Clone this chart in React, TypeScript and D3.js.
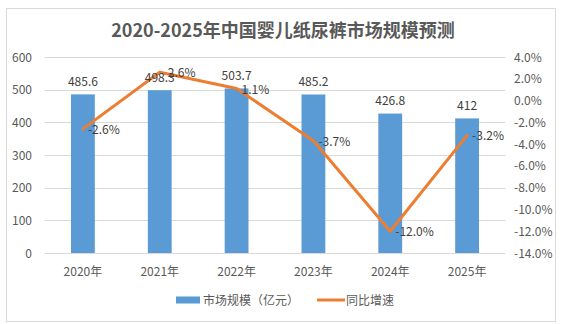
import React from "react";
import * as d3 from "d3";

const years = ["2020年", "2021年", "2022年", "2023年", "2024年", "2025年"];
const marketSize = [485.6, 498.3, 503.7, 485.2, 426.8, 412];
const growth = [-2.6, 2.6, 1.1, -3.7, -12.0, -3.2];
const leftTicks = [0, 100, 200, 300, 400, 500, 600];
const rightTicks = [4, 2, 0, -2, -4, -6, -8, -10, -12, -14];

const W = 562;
const H = 324;
const FONT = "'Microsoft YaHei', 'Noto Sans CJK SC', 'Noto Sans', sans-serif";
const TXT = "#595959";

export default function App() {
  const x = d3
    .scaleBand<string>()
    .domain(years)
    .range([44.5, 505.5])
    .paddingInner(0.69)
    .paddingOuter(0.345);
  const yL = d3.scaleLinear().domain([0, 600]).range([253, 57]);
  const yR = d3.scaleLinear().domain([-14, 4]).range([253, 57]);
  const cx = (d: string) => (x(d) as number) + x.bandwidth() / 2;

  const line = d3
    .line<number>()
    .x((_, i) => cx(years[i]))
    .y((d) => yR(d));

  return (
    <svg
      width={W}
      height={H}
      style={{ position: "absolute", left: 0, top: 0, background: "#fff" }}
      fontFamily={FONT}
    >
      <rect x={6.5} y={8.5} width={549} height={313} fill="#fff" stroke="#d9d9d9" strokeWidth={1} />
      <text x={283} y={37} textAnchor="middle" fontSize={18} fontWeight="bold" fill={TXT}>
        2020-2025年中国婴儿纸尿裤市场规模预测
      </text>

      {leftTicks.map((t) => (
        <g key={"l" + t}>
          <line x1={44.5} x2={505.5} y1={Math.round(yL(t)) + 0.5} y2={Math.round(yL(t)) + 0.5} stroke="#d9d9d9" strokeWidth={1} />
          <text x={32} y={yL(t) + 4.5} textAnchor="end" fontSize={12} fill={TXT}>
            {t}
          </text>
        </g>
      ))}
      {rightTicks.map((t) => (
        <text key={"r" + t} x={514} y={yR(t) + 4.5} textAnchor="start" fontSize={12} fill={TXT}>
          {t.toFixed(1) + "%"}
        </text>
      ))}

      {years.map((yr, i) => (
        <g key={yr}>
          <rect
            x={x(yr)}
            y={yL(marketSize[i])}
            width={x.bandwidth()}
            height={yL(0) - yL(marketSize[i])}
            fill="#5B9BD5"
          />
          <text x={cx(yr)} y={276} textAnchor="middle" fontSize={12} fill={TXT}>
            {yr}
          </text>
        </g>
      ))}

      <path d={line(growth) || ""} fill="none" stroke="#ED7D31" strokeWidth={3} strokeLinejoin="round" strokeLinecap="round" />

      {years.map((yr, i) => (
        <text key={"bl" + yr} x={cx(yr)} y={yL(marketSize[i]) - 8.5} textAnchor="middle" fontSize={12} fill="#404040">
          {String(marketSize[i])}
        </text>
      ))}
      {years.map((yr, i) => (
        <text key={"gl" + yr} x={cx(yr) + (i === 1 ? 8 : 5)} y={yR(growth[i]) + 5} textAnchor="start" fontSize={12} fill="#404040">
          {growth[i].toFixed(1) + "%"}
        </text>
      ))}

      <rect x={176} y={296.5} width={24} height={7} fill="#5B9BD5" />
      <text x={203} y={304.5} fontSize={12} fill={TXT}>
        市场规模（亿元）
      </text>
      <line x1={317} x2={345} y1={300} y2={300} stroke="#ED7D31" strokeWidth={3} />
      <text x={346} y={304.5} fontSize={12} fill={TXT}>
        同比增速
      </text>
    </svg>
  );
}
